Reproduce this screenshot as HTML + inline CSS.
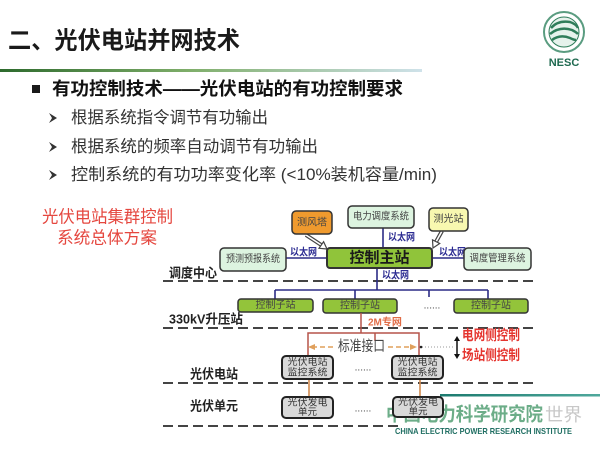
<!DOCTYPE html>
<html><head><meta charset="utf-8"><style>
html,body{margin:0;padding:0;background:#fff;}
svg{display:block;}
text{font-family:"Liberation Sans","Noto Sans CJK SC",sans-serif;}
</style></head><body>
<svg width="600" height="450" viewBox="0 0 600 450" xmlns="http://www.w3.org/2000/svg">
<defs>
<linearGradient id="tl" x1="0" x2="1" y1="0" y2="0">
<stop offset="0" stop-color="#2d6a2d"/><stop offset="0.45" stop-color="#7fae6a"/><stop offset="1" stop-color="#cfe2ea"/>
</linearGradient>
<linearGradient id="wm" x1="0" x2="1" y1="0" y2="0">
<stop offset="0" stop-color="#1b7a6e"/><stop offset="1" stop-color="#4fa89c"/>
</linearGradient>
</defs>
<rect width="600" height="450" fill="#fff"/>

<!-- title -->
<text x="8" y="41" dominant-baseline="central" font-size="24" font-weight="bold" fill="#1a1a1a" textLength="232" lengthAdjust="spacingAndGlyphs">二、光伏电站并网技术</text>
<rect x="0" y="69" width="422" height="3" fill="url(#tl)"/>

<!-- logo -->
<circle cx="564" cy="32" r="20" fill="#fff" stroke="#5a9c80" stroke-width="2"/>
<circle cx="564" cy="32" r="15" fill="#e6f2ec" stroke="#2f7d5a" stroke-width="1"/>
<path d="M551 28 Q558 20 570 22 Q576 24 578 28" fill="none" stroke="#2f7d5a" stroke-width="2.5"/>
<path d="M550 34 Q560 26 572 30 Q576 32 578 34" fill="none" stroke="#2f7d5a" stroke-width="2.5"/>
<path d="M552 40 Q560 34 570 38 Q574 40 576 40" fill="none" stroke="#2f7d5a" stroke-width="2.5"/>
<text x="564" y="63" dominant-baseline="central" text-anchor="middle" font-size="11" font-weight="bold" fill="#1f6a50">NESC</text>

<!-- heading bullet -->
<rect x="32" y="85" width="8" height="8" fill="#1a1a1a"/>
<text x="52" y="89" dominant-baseline="central" font-size="18" font-weight="bold" fill="#111" textLength="351" lengthAdjust="spacingAndGlyphs">有功控制技术——光伏电站的有功控制要求</text>

<!-- sub bullets -->
<g fill="#333">
<polygon points="49,113 57,118 49,123 52,118"/>
<polygon points="49,142 57,147 49,152 52,147"/>
<polygon points="49,170 57,175 49,180 52,175"/>
</g>
<text x="71" y="118" dominant-baseline="central" font-size="16.5" fill="#333" textLength="197" lengthAdjust="spacingAndGlyphs">根据系统指令调节有功输出</text>
<text x="71" y="147" dominant-baseline="central" font-size="16.5" fill="#333" textLength="247" lengthAdjust="spacingAndGlyphs">根据系统的频率自动调节有功输出</text>
<text x="71" y="175" dominant-baseline="central" font-size="16.5" fill="#333" textLength="366" lengthAdjust="spacingAndGlyphs">控制系统的有功功率变化率 (&lt;10%装机容量/min)</text>

<!-- red diagram title -->
<text x="42" y="217" dominant-baseline="central" font-size="17" fill="#e5473f" textLength="131" lengthAdjust="spacingAndGlyphs">光伏电站集群控制</text>
<text x="57" y="238" dominant-baseline="central" font-size="17" fill="#e5473f" textLength="100" lengthAdjust="spacingAndGlyphs">系统总体方案</text>

<!-- dashed separators -->
<g stroke="#444" stroke-width="2" stroke-dasharray="10,5">
<line x1="163" y1="281" x2="536" y2="281"/>
<line x1="163" y1="328" x2="536" y2="328"/>
<line x1="163" y1="383" x2="536" y2="383"/>
<line x1="163" y1="426" x2="400" y2="426"/>
</g>

<!-- layer labels -->
<g font-size="13" font-weight="bold" fill="#222">
<text x="169" y="273" dominant-baseline="central" textLength="48" lengthAdjust="spacingAndGlyphs">调度中心</text>
<text x="169" y="319" dominant-baseline="central" textLength="74" lengthAdjust="spacingAndGlyphs">330kV升压站</text>
<text x="190" y="374" dominant-baseline="central" textLength="48" lengthAdjust="spacingAndGlyphs">光伏电站</text>
<text x="190" y="406" dominant-baseline="central" textLength="48" lengthAdjust="spacingAndGlyphs">光伏单元</text>
</g>

<!-- blue connectors -->
<g stroke="#2b2b86" stroke-width="1.6" fill="none">
<line x1="286" y1="258" x2="327" y2="258"/>
<line x1="432" y1="258" x2="464" y2="258"/>
<line x1="383" y1="228" x2="383" y2="248"/>
<line x1="377" y1="268" x2="377" y2="290"/>
<line x1="275" y1="290" x2="488" y2="290"/>
<line x1="275" y1="290" x2="275" y2="299"/>
<line x1="355" y1="290" x2="355" y2="299"/>
<line x1="429" y1="290" x2="429" y2="297"/>
<line x1="488" y1="290" x2="488" y2="299"/>
</g>
<g font-size="10" font-weight="bold" fill="#2c2c92">
<text x="290" y="253" dominant-baseline="central" textLength="27" lengthAdjust="spacingAndGlyphs">以太网</text>
<text x="439" y="253" dominant-baseline="central" textLength="27" lengthAdjust="spacingAndGlyphs">以太网</text>
<text x="388" y="238" dominant-baseline="central" textLength="27" lengthAdjust="spacingAndGlyphs">以太网</text>
<text x="382" y="276" dominant-baseline="central" textLength="27" lengthAdjust="spacingAndGlyphs">以太网</text>
</g>

<!-- hollow arrows -->
<line x1="306" y1="235" x2="321.3" y2="245" stroke="#444" stroke-width="4"/>
<line x1="306" y1="235" x2="322" y2="245.5" stroke="#fff" stroke-width="1.6"/>
<polygon points="327,249 319,248.3 323.6,241.7" fill="#fff" stroke="#444" stroke-width="1.2"/>
<line x1="442" y1="231" x2="436.1" y2="241.7" stroke="#444" stroke-width="4"/>
<line x1="442" y1="231" x2="435.8" y2="242.3" stroke="#fff" stroke-width="1.6"/>
<polygon points="433,248 439.7,243.5 432.5,239.9" fill="#fff" stroke="#444" stroke-width="1.2"/>

<!-- top boxes -->
<g stroke="#333" stroke-width="1.5">
<rect x="292" y="211" width="40" height="23" rx="4" fill="#ef9a2e"/>
<rect x="348" y="206" width="66" height="22" rx="4" fill="#ddf4e0"/>
<rect x="429" y="208" width="39" height="23" rx="4" fill="#f8f8b0"/>
<rect x="220" y="248" width="66" height="23" rx="4" fill="#ddf4e0"/>
<rect x="464" y="248" width="67" height="22" rx="4" fill="#ddf4e0"/>
<rect x="327" y="248" width="105" height="20" rx="3" fill="#90c43a" stroke-width="2"/>
</g>
<g font-size="10" fill="#444" text-anchor="middle">
<text x="312" y="223" dominant-baseline="central">测风塔</text>
<text x="381" y="217" dominant-baseline="central" textLength="56" lengthAdjust="spacingAndGlyphs">电力调度系统</text>
<text x="448.5" y="219.5" dominant-baseline="central">测光站</text>
<text x="253" y="259.5" dominant-baseline="central" textLength="54" lengthAdjust="spacingAndGlyphs">预测预报系统</text>
<text x="497.5" y="259" dominant-baseline="central" textLength="56" lengthAdjust="spacingAndGlyphs">调度管理系统</text>
</g>
<text x="379.5" y="258" dominant-baseline="central" text-anchor="middle" font-size="15" font-weight="bold" fill="#1a1a1a">控制主站</text>

<!-- substation boxes -->
<g stroke="#333" stroke-width="1.5" fill="#93c43a">
<rect x="238" y="299" width="75" height="13" rx="3"/>
<rect x="323" y="299" width="74" height="14" rx="3"/>
<rect x="454" y="299" width="74" height="14" rx="3"/>
</g>
<g font-size="10" fill="#444" text-anchor="middle">
<text x="275.5" y="305.5" dominant-baseline="central">控制子站</text>
<text x="360" y="306" dominant-baseline="central">控制子站</text>
<text x="491" y="306" dominant-baseline="central">控制子站</text>
</g>
<text x="432" y="306" dominant-baseline="central" text-anchor="middle" font-size="10" fill="#444">......</text>

<!-- 2M network -->
<g stroke="#b5544a" stroke-width="1.5" fill="none">
<line x1="361" y1="313" x2="361" y2="333"/>
<polyline points="308,356 308,333 419,333 419,356"/>
<line x1="375" y1="333" x2="375" y2="341"/>
</g>
<text x="368" y="323" dominant-baseline="central" font-size="10" font-weight="bold" fill="#e06b45">2M专网</text>

<!-- standard interface -->
<text x="338" y="347" dominant-baseline="central" font-size="14.5" fill="#444" textLength="47" lengthAdjust="spacingAndGlyphs">标准接口</text>
<g stroke="#e0a05c" stroke-width="1.6" stroke-dasharray="5,3" fill="none">
<line x1="333" y1="347" x2="314" y2="347"/>
<line x1="388" y1="347" x2="411" y2="347"/>
</g>
<polygon points="308,347 315,344 315,350" fill="#e0a05c"/>
<polygon points="417,347 410,344 410,350" fill="#e0a05c"/>
<line x1="422" y1="347" x2="454" y2="347" stroke="#999" stroke-width="1" stroke-dasharray="1,2"/>
<circle cx="421" cy="347" r="1.3" fill="#222"/>

<!-- up/down arrow and red labels -->
<line x1="457" y1="340" x2="457" y2="355" stroke="#111" stroke-width="1.5"/>
<polygon points="457,336 454,341 460,341" fill="#111"/>
<polygon points="457,359 454,354 460,354" fill="#111"/>
<g font-size="14" font-weight="bold" fill="#e5352f">
<text x="462" y="335" dominant-baseline="central" textLength="58" lengthAdjust="spacingAndGlyphs">电网侧控制</text>
<text x="462" y="355" dominant-baseline="central" textLength="58" lengthAdjust="spacingAndGlyphs">场站侧控制</text>
</g>

<!-- orange links -->
<g stroke="#d08a50" stroke-width="1.6">
<line x1="309" y1="379" x2="309" y2="397"/>
<line x1="420" y1="379" x2="420" y2="397"/>
</g>

<!-- watermark -->
<rect x="440" y="394" width="160" height="2.5" fill="url(#wm)"/>
<text x="386" y="415" dominant-baseline="central" font-size="19" font-weight="bold" fill="#2e8b57" opacity="0.7" textLength="157" lengthAdjust="spacingAndGlyphs">中国电力科学研究院</text>
<text x="545" y="415" dominant-baseline="central" font-size="18" fill="#c8c8c8" textLength="37" lengthAdjust="spacingAndGlyphs">世界</text>
<text x="395" y="431" dominant-baseline="central" font-family="Liberation Serif,serif" font-size="8.5" font-weight="bold" fill="#1f6e62" textLength="177" lengthAdjust="spacingAndGlyphs">CHINA ELECTRIC POWER RESEARCH INSTITUTE</text>

<!-- PV boxes -->
<g stroke="#222" stroke-width="2" fill="#d9d9d9">
<rect x="282" y="356" width="51" height="23" rx="4"/>
<rect x="392" y="356" width="51" height="23" rx="4"/>
<rect x="282" y="397" width="51" height="21" rx="4"/>
<rect x="393" y="397" width="50" height="20" rx="4"/>
</g>
<g font-size="9.5" fill="#333" text-anchor="middle">
<text x="307.5" y="362.5" dominant-baseline="central" textLength="40" lengthAdjust="spacingAndGlyphs">光伏电站</text>
<text x="307.5" y="373" dominant-baseline="central" textLength="40" lengthAdjust="spacingAndGlyphs">监控系统</text>
<text x="417.5" y="362.5" dominant-baseline="central" textLength="40" lengthAdjust="spacingAndGlyphs">光伏电站</text>
<text x="417.5" y="373" dominant-baseline="central" textLength="40" lengthAdjust="spacingAndGlyphs">监控系统</text>
<text x="307.5" y="403" dominant-baseline="central" textLength="40" lengthAdjust="spacingAndGlyphs">光伏发电</text>
<text x="307.5" y="412.5" dominant-baseline="central">单元</text>
<text x="418" y="402.5" dominant-baseline="central" textLength="40" lengthAdjust="spacingAndGlyphs">光伏发电</text>
<text x="418" y="412" dominant-baseline="central">单元</text>
</g>
<g font-size="10" fill="#444" text-anchor="middle">
<text x="363" y="368" dominant-baseline="central">......</text>
<text x="363" y="409" dominant-baseline="central">......</text>
</g>
</svg>
</body></html>
